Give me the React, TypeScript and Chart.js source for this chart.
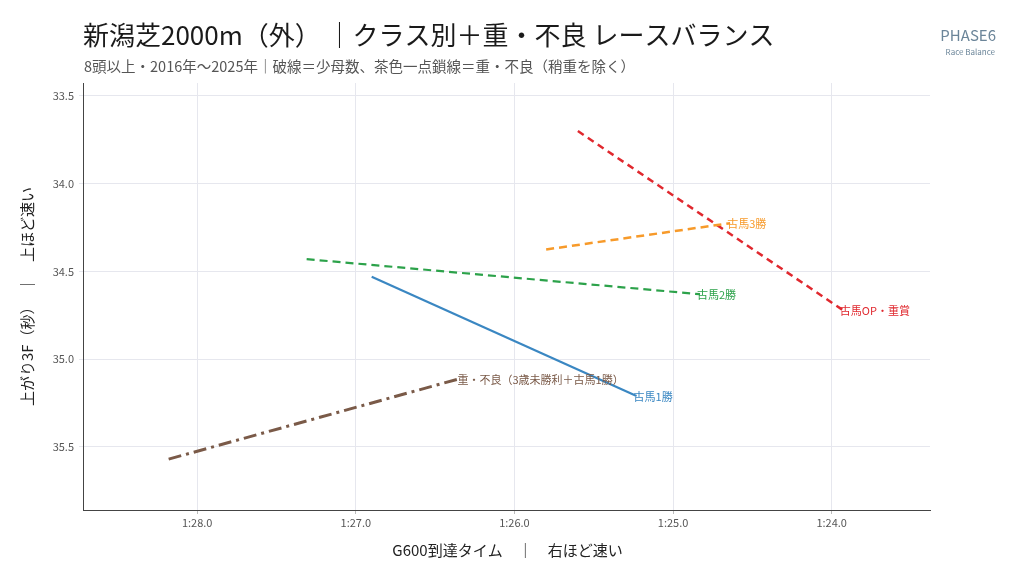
import React, { useRef, useEffect } from 'react';
import Chart from 'chart.js/auto';

const FONT = '"Noto Sans CJK JP", "Noto Sans", sans-serif';

// series (start -> end of each regression segment)
const seriesNames = ['古馬1勝', '古馬2勝', '古馬3勝', '古馬OP・重賞', '重・不良（3歳未勝利＋古馬1勝）'];
const g600From = [86.9, 87.31, 85.8, 85.6, 88.18];
const g600To = [85.23, 84.83, 84.64, 83.93, 86.34];
const last3fFrom = [34.53, 34.43, 34.375, 33.7, 35.57];
const last3fTo = [35.21, 34.63, 34.225, 34.72, 35.11];

const xTicks = [88, 87, 86, 85, 84];
const yTicks = [33.5, 34.0, 34.5, 35.0, 35.5];

const colors = ['#3a87c2', '#2ca24a', '#f79a2a', '#e0282e', '#7a5a48'];
const dashes = [[], [8, 5], [8, 5], [7, 5], [13, 5, 3, 5]];
const widths = [2.2, 2.2, 2.5, 2.5, 3];

const fmtTime = (v: number) => {
  const m = Math.floor(v / 60);
  const s = v - m * 60;
  return `${m}:${s.toFixed(1).padStart(4, '0')}`;
};

const decorPlugin = {
  id: 'decor',
  afterDatasetsDraw(chart: any) {
    const ctx = chart.ctx;
    const xs = chart.scales.x;
    const ys = chart.scales.y;
    ctx.save();
    // end labels
    ctx.font = `11px ${FONT}`;
    ctx.textAlign = 'left';
    ctx.textBaseline = 'middle';
    seriesNames.forEach((name, i) => {
      ctx.fillStyle = colors[i];
      ctx.fillText(name, xs.getPixelForValue(g600To[i]) - 3, ys.getPixelForValue(last3fTo[i]) + 1);
    });
    ctx.restore();
  },
  afterDraw(chart: any) {
    const ctx = chart.ctx;
    const a = chart.chartArea;
    ctx.save();
    ctx.textBaseline = 'middle';
    ctx.textAlign = 'left';
    ctx.fillStyle = '#1a1a1a';
    ctx.font = `26px ${FONT}`;
    ctx.fillText('新潟芝2000m（外） ｜クラス別＋重・不良 レースバランス', 83, 35);
    ctx.fillStyle = '#555';
    ctx.font = `14.5px ${FONT}`;
    ctx.fillText('8頭以上・2016年～2025年｜破線＝少母数、茶色一点鎖線＝重・不良（稍重を除く）', 84, 66);

    ctx.textAlign = 'right';
    ctx.fillStyle = '#6b8599';
    ctx.font = `15px ${FONT}`;
    ctx.fillText('PHASE6', 996, 35);
    ctx.font = `8px ${FONT}`;
    ctx.fillText('Race Balance', 995, 52);

    // axis titles
    ctx.fillStyle = '#222';
    ctx.font = `15px ${FONT}`;
    ctx.textAlign = 'center';
    ctx.fillText('G600到達タイム　｜　右ほど速い', (a.left + a.right) / 2 + 1, 550);
    ctx.translate(27, (a.top + a.bottom) / 2);
    ctx.rotate(-Math.PI / 2);
    ctx.fillText('上がり3F（秒）　｜　上ほど速い', 0, 0);
    ctx.restore();
  },
};

const App: React.FC = () => {
  const chartRef = useRef<HTMLCanvasElement>(null);
  const chartInstance = useRef<Chart | null>(null);

  useEffect(() => {
    document.body.style.margin = '0';
    if (chartRef.current) {
      const ctx = chartRef.current.getContext('2d');
      if (ctx) {
        if (chartInstance.current) {
          chartInstance.current.destroy();
        }
        chartInstance.current = new Chart(ctx, {
          type: 'scatter',
          data: {
            datasets: seriesNames.map((name, i) => ({
              label: name,
              data: [
                { x: g600From[i], y: last3fFrom[i] },
                { x: g600To[i], y: last3fTo[i] },
              ],
              showLine: true,
              borderColor: colors[i],
              backgroundColor: colors[i],
              borderWidth: widths[i],
              borderDash: dashes[i],
              pointRadius: 0,
              pointHoverRadius: 0,
            })),
          },
          options: {
            animation: false,
            responsive: true,
            maintainAspectRatio: false,
            layout: { padding: { top: 83, right: 94, left: 0, bottom: 0 } },
            plugins: {
              legend: { display: false },
              tooltip: { enabled: false },
            },
            scales: {
              x: {
                type: 'linear',
                reverse: true,
                min: 83.38,
                max: 88.72,
                afterFit: (s: any) => { s.height = 66; },
                afterBuildTicks: (s: any) => { s.ticks = xTicks.map((v) => ({ value: v })); },
                grid: { color: '#e6e7ee', tickLength: 4, tickColor: '#bbb' },
                border: { color: '#444', width: 1 },
                ticks: {
                  color: '#555',
                  font: { family: FONT, size: 11 },
                  padding: 2,
                  callback: (v: any) => fmtTime(Number(v)),
                },
              },
              y: {
                type: 'linear',
                reverse: true,
                min: 33.426,
                max: 35.86,
                afterFit: (s: any) => { s.width = 83; },
                afterBuildTicks: (s: any) => { s.ticks = yTicks.map((v) => ({ value: v })); },
                grid: { color: '#e6e7ee', tickLength: 4, tickColor: '#e6e7ee' },
                border: { color: '#444', width: 1 },
                ticks: {
                  color: '#555',
                  font: { family: FONT, size: 11 },
                  padding: 5,
                  callback: (v: any) => Number(v).toFixed(1),
                },
              },
            },
          },
          plugins: [decorPlugin],
        });
      }
    }

    return () => {
      if (chartInstance.current) {
        chartInstance.current.destroy();
        chartInstance.current = null;
      }
    };
  }, []);

  return (
    <div style={{ position: 'fixed', left: 0, top: 0, width: 1024, height: 576, background: '#fff' }}>
      <canvas ref={chartRef} />
    </div>
  );
};

export default App;
